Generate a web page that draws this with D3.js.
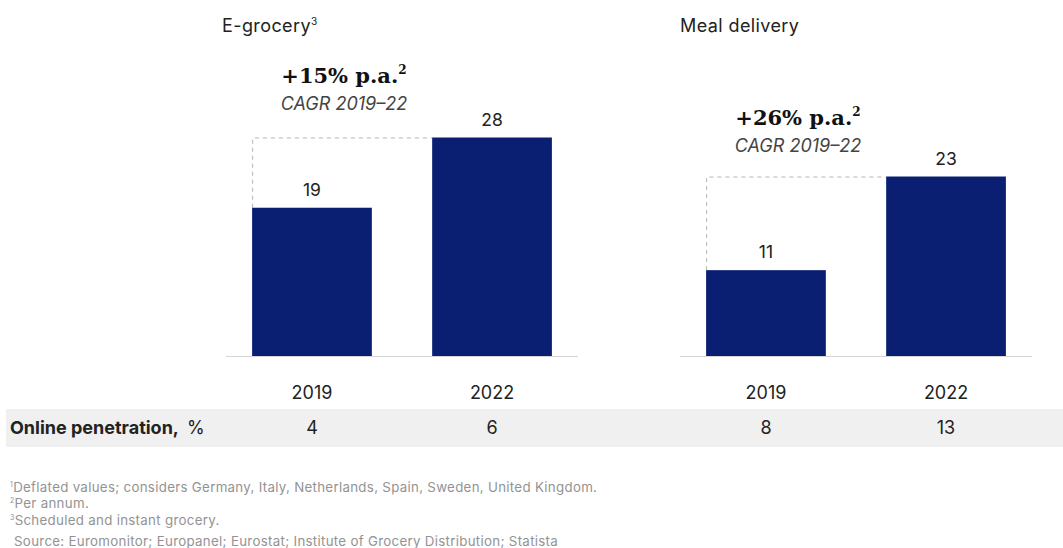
<!DOCTYPE html>
<html>
  <head>
    <meta charset="utf-8" />
    <script src="https://cdn.jsdelivr.net/npm/d3@7"></script>
    <style>
      body { margin: 0; background: #fff; }
      text { font-family: Inter, "Liberation Sans", Arial, sans-serif; fill: #222; }
      .bar { fill: #0a1f72; }
      .base { stroke: #d6d6d6; stroke-width: 1; }
      .guide { stroke: #b5b5b5; stroke-dasharray: 4 4; fill: none; }
      .cagr { font-family: "DejaVu Serif", Georgia, serif; font-weight: bold; font-size: 21px; fill: #111; }
      .cagr-sub { font-style: italic; font-size: 18px; fill: #444; }
      .note { font-size: 13.3px; fill: #939393; letter-spacing: 0.3px; white-space: pre; }
    </style>
  </head>
  <body>
    <div id="chart"></div>
    <script type="text/javascript">
      var w = 1063, h = 548;

      var years = ["2019", "2022"];
      var panelTitles = ["E-grocery", "Meal delivery"];
      var titleSup = ["3", ""];
      var groceryValues = [19, 28];
      var mealValues = [11, 23];
      var groceryPenetration = [4, 6];
      var mealPenetration = [8, 13];
      var cagrLabels = ["+15% p.a.", "+26% p.a."];
      var footnotes = [
        ["1", "Deflated values; considers Germany, Italy, Netherlands, Spain, Sweden, United Kingdom."],
        ["2", "Per annum."],
        ["3", "Scheduled and instant grocery."],
        ["", " Source: Euromonitor; Europanel; Eurostat; Institute of Grocery Distribution; Statista"]
      ];

      var panels = [
        { title: panelTitles[0], sup: titleSup[0], values: groceryValues, pen: groceryPenetration, cagr: cagrLabels[0], x0: 226, x1: 578, tx: 222, cagrY: 83 },
        { title: panelTitles[1], sup: titleSup[1], values: mealValues, pen: mealPenetration, cagr: cagrLabels[1], x0: 680, x1: 1032, tx: 680, cagrY: 125 }
      ];

      var svg = d3.select("#chart").append("svg")
        .attr("width", w)
        .attr("height", h);

      var baseY = 356;
      var y = d3.scaleLinear().domain([0, 28]).range([baseY, baseY - 218.5]);

      // penetration band
      svg.append("rect")
        .attr("x", 6).attr("y", 409)
        .attr("width", w - 6).attr("height", 38)
        .attr("fill", "#f0f0f0");

      var rowLabel = svg.append("text")
        .attr("x", 10).attr("y", 434)
        .style("font-size", "18px");
      rowLabel.append("tspan").attr("font-weight", "bold").text("Online penetration,");
      rowLabel.append("tspan").attr("dx", 8).text("%");

      panels.forEach(function(p) {
        var x = d3.scaleBand().domain(years).range([p.x0, p.x1])
          .paddingInner(0.335).paddingOuter(0.145);
        var g = svg.append("g");

        var t = g.append("text").attr("x", p.tx).attr("y", 32)
          .style("font-size", "18px").style("letter-spacing", "0.4px").text(p.title);
        if (p.sup) t.append("tspan").attr("dy", -7).style("font-size", "10px").text(p.sup);

        g.append("line").attr("class", "base")
          .attr("x1", p.x0).attr("x2", p.x1)
          .attr("y1", baseY + 0.5).attr("y2", baseY + 0.5);

        // dashed guide from first bar to last bar top
        var xa = x(years[0]) + 0.5, ya = y(p.values[0]), yb = y(p.values[1]) + 0.5;
        g.append("path").attr("class", "guide")
          .attr("d", "M" + xa + "," + ya + "V" + yb + "H" + x(years[1]));

        g.selectAll("rect.bar").data(p.values).enter().append("rect")
          .attr("class", "bar")
          .attr("x", function(d, i) { return x(years[i]); })
          .attr("y", function(d) { return y(d); })
          .attr("width", x.bandwidth())
          .attr("height", function(d) { return baseY - y(d); });

        g.selectAll("text.val").data(p.values).enter().append("text")
          .attr("class", "val")
          .attr("x", function(d, i) { return x(years[i]) + x.bandwidth() / 2; })
          .attr("y", function(d) { return y(d) - 12; })
          .attr("text-anchor", "middle")
          .style("font-size", "17.5px")
          .text(function(d) { return d; });

        g.selectAll("text.yr").data(years).enter().append("text")
          .attr("class", "yr")
          .attr("x", function(d) { return x(d) + x.bandwidth() / 2; })
          .attr("y", 399)
          .attr("text-anchor", "middle")
          .style("font-size", "18px")
          .text(function(d) { return d; });

        g.selectAll("text.pen").data(p.pen).enter().append("text")
          .attr("class", "pen")
          .attr("x", function(d, i) { return x(years[i]) + x.bandwidth() / 2; })
          .attr("y", 434)
          .attr("text-anchor", "middle")
          .style("font-size", "18px")
          .text(function(d) { return d; });

        var cx = x(years[0]) + x.bandwidth() / 2 + 32;
        var c = g.append("text").attr("class", "cagr")
          .attr("x", cx).attr("y", p.cagrY).attr("text-anchor", "middle").text(p.cagr);
        c.append("tspan").attr("dy", -9).style("font-size", "12px").text("2");
        g.append("text").attr("class", "cagr-sub")
          .attr("x", cx).attr("y", p.cagrY + 27).attr("text-anchor", "middle")
          .text("CAGR 2019\u201322");
      });

      var notes = svg.selectAll("text.note").data(footnotes).enter().append("text")
        .attr("class", "note")
        .attr("x", 10)
        .attr("y", function(d, i) { return 492 + i * 16.3; });
      notes.append("tspan").attr("dy", -5).style("font-size", "7px").text(function(d) { return d[0]; });
      notes.append("tspan").attr("dy", 5).text(function(d) { return d[1]; });
    </script>
  </body>
</html>
